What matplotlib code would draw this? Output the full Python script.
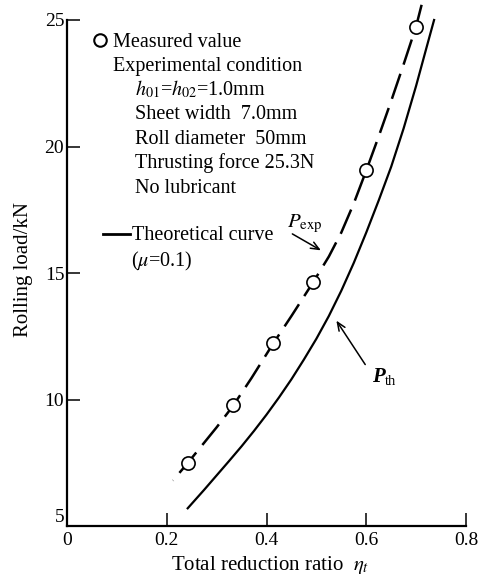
import matplotlib
matplotlib.use('Agg')
import matplotlib.pyplot as plt

plt.rcParams['font.family'] = 'serif'
plt.rcParams['font.serif'] = ['Liberation Serif', 'DejaVu Serif']
plt.rcParams['mathtext.fontset'] = 'stix'
plt.rcParams['lines.scale_dashes'] = False

# measured rolling load (circles)
eta_meas = [0.243, 0.333, 0.413, 0.494, 0.600, 0.699]
load_meas = [7.5, 9.78, 12.22, 14.66, 19.07, 24.74]

# experimental curve P_exp (dashed)
eta_exp = [0.2125, 0.2425, 0.30, 0.333, 0.37, 0.413, 0.45, 0.494, 0.525, 0.55,
           0.575, 0.60, 0.625, 0.65, 0.675, 0.70, 0.711]
load_exp = [6.8, 7.5, 8.9, 9.75, 10.85, 12.2, 13.3, 14.65, 15.65, 16.6,
            17.75, 19.05, 20.4, 21.8, 23.25, 24.75, 25.6]

# theoretical curve P_th (mu=0.1)
eta_th = [0.242, 0.275, 0.30, 0.325, 0.35, 0.375, 0.40, 0.425, 0.45, 0.475, 0.50,
          0.525, 0.55, 0.575, 0.60, 0.625, 0.65, 0.675, 0.70, 0.72, 0.736]
load_th = [5.7, 6.43, 7.0, 7.57, 8.15, 8.76, 9.4, 10.08, 10.8, 11.58, 12.4,
           13.3, 14.3, 15.4, 16.6, 17.87, 19.2, 20.72, 22.4, 23.85, 25.0]

xticks = [0, 0.2, 0.4, 0.6, 0.8]
xlabels = ['0', '0.2', '0.4', '0.6', '0.8']
yticks = [5, 10, 15, 20, 25]

conditions = ['Experimental condition',
              r'$h_{\rm 01}$=$h_{\rm 02}$=1.0mm',
              'Sheet width  7.0mm',
              'Roll diameter  50mm',
              'Thrusting force 25.3N',
              'No lubricant']

W, H = 487, 580
fig = plt.figure(figsize=(W/100, H/100), dpi=100)
ax = fig.add_axes([67/W, 1-526/H, 399/W, 506/H])

def fp(x, y):
    # figure pixel (from top-left) -> figure fraction
    return x/W, 1 - y/H

ax.plot(eta_th, load_th, color='black', lw=1.6, clip_on=False)
# drawn from the top down so the dash pattern starts at the upper end
ax.plot(eta_exp[::-1], load_exp[::-1], color='black', lw=1.8, dashes=(19, 7),
        clip_on=False)
ax.plot(eta_meas, load_meas, 'o', ms=9.5, mfc='white', mec='black', mew=1.2,
        clip_on=False, zorder=5)

ax.set_xlim(0, 0.8)
ax.set_ylim(5, 25)
ax.set_xticks(xticks)
ax.set_xticklabels(xlabels)
ax.set_yticks(yticks)
for s in ['top', 'right']:
    ax.spines[s].set_visible(False)
for s in ['left', 'bottom']:
    ax.spines[s].set_linewidth(1.6)
ax.tick_params(direction='in', length=9.5, width=1.1, labelsize=14)
ax.tick_params(axis='y', pad=2)
ax.tick_params(axis='x', pad=4)
ax.get_yticklabels()[0].set_va('bottom')

ax.set_xlabel(r'Total reduction ratio  $\eta_t$', fontsize=15)
ax.xaxis.set_label_coords(0.51, -0.055)
ax.set_ylabel('Rolling load/kN', fontsize=15)
ax.yaxis.set_label_coords(-0.085, 0.506)

# legend block
fs = 14.5
ax.plot([fp(99.5, 40)[0]], [fp(99.5, 40)[1]], 'o', ms=9, mfc='white', mec='black',
        mew=1.5, transform=fig.transFigure, clip_on=False)
fig.text(*fp(113, 47), 'Measured value', fontsize=fs, va='baseline')
fig.text(*fp(113, 70.5), conditions[0], fontsize=fs, va='baseline')
for i, t in enumerate(conditions[1:]):
    fig.text(*fp(135, 95 + 24.4*i), t, fontsize=fs, va='baseline')

x0, y0 = fp(103, 234)
x1, _ = fp(130, 234)
ax.plot([x0, x1], [y0, y0], color='black', lw=2, transform=fig.transFigure, clip_on=False)
fig.text(*fp(132, 240), 'Theoretical curve', fontsize=fs, va='baseline')
fig.text(*fp(131, 266), r'($\mu$=0.1)', fontsize=fs, va='baseline')

# curve labels
ax.annotate('', xy=(0.514, 15.84), xytext=(0.447, 16.6),
            arrowprops=dict(arrowstyle='->,head_length=0.6,head_width=0.25', lw=1.1))
ax.text(0.442, 16.95, r'$P_{\rm exp}$', fontsize=15, va='center')
ax.annotate('', xy=(0.537, 13.21), xytext=(0.601, 11.29),
            arrowprops=dict(arrowstyle='->,head_length=0.6,head_width=0.25', lw=1.1))
ax.text(0.612, 10.9, 'P', fontsize=15, fontweight='bold', style='italic', va='center')
ax.text(0.638, 10.7, 'th', fontsize=10.5, va='center')

fig.savefig('out.png', dpi=100)
